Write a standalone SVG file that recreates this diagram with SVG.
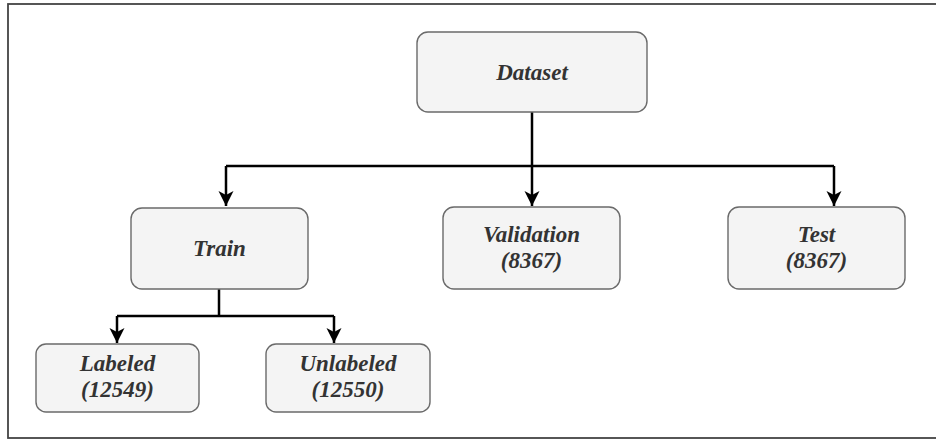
<svg xmlns="http://www.w3.org/2000/svg" width="936" height="439" viewBox="0 0 936 439">
  <style>
    .box { fill: #f4f4f4; stroke: #6a6a6a; stroke-width: 1.4; }
    .label { font-family: "Liberation Serif", "Times New Roman", serif; font-size: 23px; font-weight: bold; font-style: italic; fill: #333333; text-anchor: middle; }
    .wire { fill: none; stroke: #000000; stroke-width: 2.5; stroke-linejoin: round; }
  </style>
  <defs>
    <marker id="arrow" viewBox="0 0 16 16" refX="15" refY="8" markerWidth="16" markerHeight="16" markerUnits="userSpaceOnUse" orient="auto">
      <path d="M0,0.5 L15,8 L0,15.5 L4,8 Z" fill="#000000"/>
    </marker>
  </defs>

  <!-- outer frame -->
  <rect x="8" y="4" width="940" height="434" fill="#ffffff" stroke="#444444" stroke-width="1.8"/>

  <!-- connectors -->
  <g id="connectors">
    <path class="wire" d="M532,112 V166"/>
    <path class="wire" d="M226,166 H834"/>
    <path class="wire" d="M226,166 V206" marker-end="url(#arrow)"/>
    <path class="wire" d="M532,166 V206" marker-end="url(#arrow)"/>
    <path class="wire" d="M834,166 V206" marker-end="url(#arrow)"/>
    <path class="wire" d="M219,289 V316"/>
    <path class="wire" d="M117,316 H334"/>
    <path class="wire" d="M117,316 V343" marker-end="url(#arrow)"/>
    <path class="wire" d="M334,316 V343" marker-end="url(#arrow)"/>
  </g>

  <g id="dataset">
    <rect class="box" x="417" y="32" width="230" height="80" rx="11"/>
    <text class="label" x="532" y="80">Dataset</text>
  </g>

  <g id="train">
    <rect class="box" x="131" y="208" width="177" height="81" rx="11"/>
    <text class="label" x="219.5" y="256">Train</text>
  </g>

  <g id="validation">
    <rect class="box" x="443" y="207" width="177" height="82" rx="11"/>
    <text class="label" x="531.5" y="242">Validation</text>
    <text class="label" x="531.5" y="268">(8367)</text>
  </g>

  <g id="test">
    <rect class="box" x="728" y="207" width="177" height="82" rx="11"/>
    <text class="label" x="816.5" y="242">Test</text>
    <text class="label" x="816.5" y="268">(8367)</text>
  </g>

  <g id="labeled">
    <rect class="box" x="36" y="344" width="163" height="68" rx="10"/>
    <text class="label" x="117.5" y="371">Labeled</text>
    <text class="label" x="117.5" y="397">(12549)</text>
  </g>

  <g id="unlabeled">
    <rect class="box" x="266" y="344" width="164" height="68" rx="10"/>
    <text class="label" x="348" y="371">Unlabeled</text>
    <text class="label" x="348" y="397">(12550)</text>
  </g>
</svg>
